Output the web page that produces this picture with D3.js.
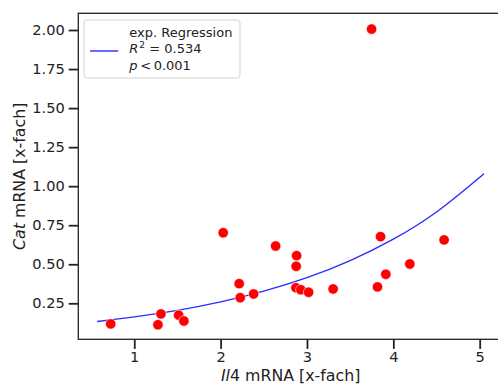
<!DOCTYPE html>
<html>
<head>
<meta charset="utf-8">
<script src="https://cdn.jsdelivr.net/npm/d3@7"></script>
<style>
  html, body { margin: 0; padding: 0; background: #fff; }
  svg { display: block; font-family: "DejaVu Sans", sans-serif; }
</style>
</head>
<body>
<svg id="chart" width="498" height="385"></svg>
<script>
// ---- data ----
const il4 = [0.727, 1.274, 1.309, 1.514, 1.575, 2.030, 2.215, 2.227, 2.382, 2.637, 2.880,
             2.875, 2.872, 2.929, 3.019, 3.303, 3.748, 3.817, 3.852, 3.913, 4.191, 4.588];
const cat = [0.118, 0.113, 0.182, 0.174, 0.137, 0.702, 0.376, 0.286, 0.310, 0.617, 0.555,
             0.487, 0.350, 0.337, 0.321, 0.342, 2.006, 0.355, 0.677, 0.436, 0.502, 0.656];
// exponential regression curve
const regX = [0.57, 1.0, 1.5, 2.0, 2.5, 3.0, 3.5, 4.0, 4.5, 5.05];
const regY = [0.133, 0.163, 0.205, 0.259, 0.328, 0.414, 0.523, 0.661, 0.835, 1.080];
const xTicks = [1, 2, 3, 4, 5];
const yTicks = [0.25, 0.50, 0.75, 1.00, 1.25, 1.50, 1.75, 2.00];
const legendLines = ["exp. Regression", "R2 = 0.534", "p < 0.001"];

// ---- layout ----
const svg = d3.select("#chart");
const L = 78.3, R = 503, T = 13.3, B = 339.3;
const x = d3.scaleLinear().domain([0.352, 5.27]).range([L, R]);
const y = d3.scaleLinear().domain([0.0195, 2.107]).range([B, T]);
const ink = "#222";

// regression line
const lineData = regX.map((v, i) => [v, regY[i]]);
svg.append("path")
  .datum(lineData)
  .attr("fill", "none")
  .attr("stroke", "#2b2bff")
  .attr("stroke-width", 1.4)
  .attr("d", d3.line().x(d => x(d[0])).y(d => y(d[1])).curve(d3.curveNatural));

// points
svg.append("g").selectAll("circle")
  .data(il4.map((v, i) => [v, cat[i]]))
  .join("circle")
  .attr("cx", d => x(d[0]))
  .attr("cy", d => y(d[1]))
  .attr("r", 5.2)
  .attr("fill", "#ff0000")
  .attr("stroke", "#fff")
  .attr("stroke-width", 0.6);

// axes
const xAxis = svg.append("g")
  .attr("transform", `translate(0,${B})`)
  .call(d3.axisBottom(x).tickValues(xTicks).tickFormat(d3.format("d")).tickSize(9.6).tickPadding(2.8));
const yAxis = svg.append("g")
  .attr("transform", `translate(${L},0)`)
  .call(d3.axisLeft(y).tickValues(yTicks).tickFormat(d3.format(".2f")).tickSize(9.6).tickPadding(4));
[xAxis, yAxis].forEach(g => {
  g.select(".domain").remove();
  g.selectAll(".tick line").attr("stroke", ink).attr("stroke-width", 1.8);
  g.selectAll(".tick text").attr("fill", ink).style("font-size", "14.6px")
    .style("font-family", "'DejaVu Sans', sans-serif");
});

// spines
svg.append("rect")
  .attr("x", L).attr("y", T)
  .attr("width", R - L).attr("height", B - T)
  .attr("fill", "none").attr("stroke", ink).attr("stroke-width", 1.3);

// axis labels
const xl = svg.append("text")
  .attr("x", (L + R) / 2).attr("y", 381)
  .attr("text-anchor", "middle").attr("fill", ink)
  .style("font-size", "15.8px");
xl.append("tspan").attr("font-style", "italic").text("Il");
xl.append("tspan").text("4 mRNA [x-fach]");

const yl = svg.append("text")
  .attr("transform", `translate(24.5,${(T + B) / 2}) rotate(-90)`)
  .attr("text-anchor", "middle").attr("fill", ink)
  .style("font-size", "15.8px");
yl.append("tspan").attr("font-style", "italic").text("Cat");
yl.append("tspan").text(" mRNA [x-fach]");

// legend
const lg = svg.append("g");
lg.append("rect")
  .attr("x", 84).attr("y", 20).attr("width", 156).attr("height", 58).attr("rx", 3)
  .attr("fill", "#fff").attr("fill-opacity", 0.85)
  .attr("stroke", "#d4d4d4").attr("stroke-width", 1);
lg.append("line")
  .attr("x1", 90).attr("x2", 118.3).attr("y1", 51).attr("y2", 51)
  .attr("stroke", "#2b2bff").attr("stroke-width", 1.4);
const lfs = "13px", tx = 129.3;
lg.append("text").attr("x", tx).attr("y", 36.7).attr("fill", ink).style("font-size", lfs)
  .text(legendLines[0]);
const r2 = lg.append("text").attr("x", tx).attr("y", 53.3).attr("fill", ink).style("font-size", lfs)
  .attr("xml:space", "preserve").style("white-space", "pre");
r2.append("tspan").attr("font-style", "italic").text("R");
r2.append("tspan").attr("dy", -5).attr("dx", 1).style("font-size", "9px").text("2");
r2.append("tspan").attr("dy", 5).text(" = 0.534");
const pl = lg.append("text").attr("x", tx).attr("y", 70).attr("fill", ink).style("font-size", lfs);
pl.append("tspan").attr("font-style", "italic").text("p");
pl.append("tspan").text("\u2009<\u20090.001");
</script>
</body>
</html>
